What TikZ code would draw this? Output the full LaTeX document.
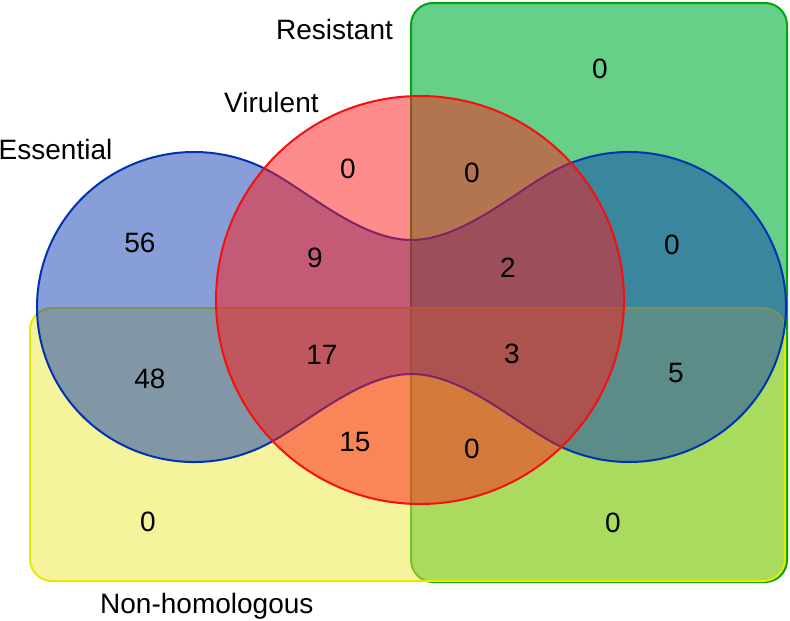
\documentclass[tikz,border=0pt]{standalone}
\usepackage{fontspec}
\setmainfont{Liberation Sans}
\definecolor{greenF}{RGB}{0,177,57}
\definecolor{greenS}{RGB}{0,165,15}
\definecolor{yellowF}{RGB}{235,231,55}
\definecolor{yellowS}{RGB}{232,232,0}
\definecolor{blueF}{RGB}{15,61,177}
\definecolor{blueS}{RGB}{0,51,175}
\definecolor{redF}{RGB}{255,25,25}
\definecolor{redS}{RGB}{245,15,15}
\begin{document}
\begin{tikzpicture}[x=1pt,y=-1pt,
  txt/.style={font=\fontsize{28}{33}\selectfont, inner sep=0pt, text=black},
  setline/.style={line width=2pt}]
\useasboundingbox (0,0) rectangle (790,621);
% Resistant
\draw[setline, draw=greenS, fill=greenF, fill opacity=0.6, rounded corners=22] (411,3) rectangle (787,582);
% Non-homologous
\draw[setline, draw=yellowS, fill=yellowF, fill opacity=0.5, rounded corners=22] (30,308) rectangle (785,581);
% Essential
\draw[setline, draw=blueS, fill=blueF, fill opacity=0.5]
  (265.3,168.9) .. controls (305.5,189.1) and (359.5,240) .. (411.5,240)
  .. controls (463.5,240) and (517.5,189.1) .. (557.7,168.9)
  arc[start angle=-117, end angle=117, x radius=157, y radius=155]
  .. controls (517.5,424.9) and (463.5,374) .. (411.5,374)
  .. controls (359.5,374) and (305.5,424.9) .. (265.3,445.1)
  arc[start angle=63, end angle=297, x radius=157, y radius=155] -- cycle;
% Virulent
\draw[setline, draw=redS, fill=redF, fill opacity=0.5] (420,300) circle[radius=204];
% set labels
\node[txt, anchor=base west] (lres) at (276,39.5) {Resistant};
\node[txt, anchor=base west] (lvir) at (224,112) {Virulent};
\node[txt, anchor=base west] (less) at (-1.5,159) {Essential};
\node[txt, anchor=base west] (lnon) at (100,613) {Non-homologous};
% counts
\node[txt] (n1) at (600,69) {0};
\node[txt] (n2) at (348,169) {0};
\node[txt] (n3) at (472,173) {0};
\node[txt] (n4) at (140,243) {56};
\node[txt] (n5) at (315,258) {9};
\node[txt] (n6) at (508,268) {2};
\node[txt] (n7) at (672,245) {0};
\node[txt] (n8) at (150,379) {48};
\node[txt] (n9) at (322,355) {17};
\node[txt] (n10) at (512,354) {3};
\node[txt] (n11) at (676,373) {5};
\node[txt] (n12) at (355,442) {15};
\node[txt] (n13) at (472,449) {0};
\node[txt] (n14) at (148,522) {0};
\node[txt] (n15) at (613,523) {0};
\end{tikzpicture}
\end{document}
